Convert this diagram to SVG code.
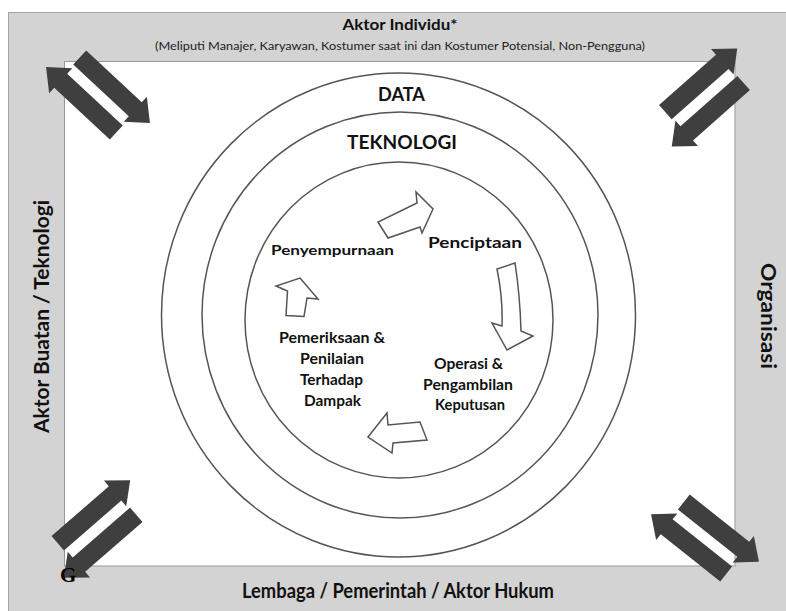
<svg xmlns="http://www.w3.org/2000/svg" xmlns:xlink="http://www.w3.org/1999/xlink" width="786" height="611" viewBox="0 0 786 611">
<style>
.t{font-family:Lato,"Liberation Sans",sans-serif;font-weight:bold;fill:#111;}
.s{font-family:Lato,"Liberation Sans",sans-serif;fill:#222;}
.ring{fill:none;stroke:#555;stroke-width:1.5;}
.ba{fill:#fff;stroke:#555;stroke-width:1.5;stroke-linejoin:miter;}
.ca{fill:#3f3f3f;}
</style>
<defs>
<g id="pair">
<path d="M -39,-24.5 L 37,-24.5 L 37,-32 L 57,-15 L 37,2 L 37,-5.5 L -39,-5.5 Z"/>
<path d="M 39,24.5 L -37,24.5 L -37,32 L -57,15 L -37,-2 L -37,5.5 L 39,5.5 Z"/>
</g>
</defs>
<rect x="0" y="0" width="786" height="611" fill="#fff"/>
<g id="frame">
<rect x="8.5" y="12.5" width="790" height="610" fill="#d3d3d3" stroke="#a5a5a5" stroke-width="1"/>
<rect x="64.5" y="61.5" width="670.5" height="504.5" fill="#fff" stroke="#999" stroke-width="1"/>
</g>
<g id="actor-individu">
<text class="t" x="400" y="30" font-size="15" text-anchor="middle" textLength="115" lengthAdjust="spacingAndGlyphs">Aktor Individu*</text>
<text class="s" x="400" y="50" font-size="11.5" text-anchor="middle" textLength="490" lengthAdjust="spacingAndGlyphs">(Meliputi Manajer, Karyawan, Kostumer saat ini dan Kostumer Potensial,  Non-Pengguna)</text>
</g>
<g id="actor-buatan">
<text class="t" transform="translate(49,316.5) rotate(-90)" x="0" y="0" font-size="20" text-anchor="middle" textLength="233" lengthAdjust="spacingAndGlyphs">Aktor Buatan / Teknologi</text>
</g>
<g id="organisasi">
<text class="t" transform="translate(761,316) rotate(90)" x="0" y="0" font-size="20" text-anchor="middle" textLength="106" lengthAdjust="spacingAndGlyphs">Organisasi</text>
</g>
<g id="lembaga">
<text class="t" x="398" y="598" font-size="20" text-anchor="middle" textLength="312" lengthAdjust="spacingAndGlyphs">Lembaga / Pemerintah / Aktor Hukum</text>
</g>
<g id="rings">
<ellipse class="ring" cx="398.5" cy="315" rx="237" ry="242"/>
<ellipse class="ring" cx="400" cy="315" rx="198" ry="203"/>
<ellipse class="ring" cx="399" cy="320" rx="154" ry="158"/>
</g>
<g id="data">
<text class="t" x="401.5" y="101" font-size="19.5" text-anchor="middle" textLength="47" lengthAdjust="spacingAndGlyphs">DATA</text>
</g>
<g id="teknologi">
<text class="t" x="402" y="149" font-size="19.5" text-anchor="middle" textLength="110" lengthAdjust="spacingAndGlyphs">TEKNOLOGI</text>
</g>
<g id="penciptaan">
<text class="t" x="475" y="248" font-size="16" text-anchor="middle" textLength="94" lengthAdjust="spacingAndGlyphs">Penciptaan</text>
</g>
<g id="penyempurnaan">
<text class="t" x="332.5" y="255" font-size="14" text-anchor="middle" textLength="123" lengthAdjust="spacingAndGlyphs">Penyempurnaan</text>
</g>
<g id="pemeriksaan">
<text class="t" x="332" y="343" font-size="15" text-anchor="middle" textLength="106" lengthAdjust="spacingAndGlyphs">Pemeriksaan &amp;</text>
<text class="t" x="332" y="364" font-size="15" text-anchor="middle" textLength="64" lengthAdjust="spacingAndGlyphs">Penilaian</text>
<text class="t" x="331.5" y="385" font-size="15" text-anchor="middle" textLength="63" lengthAdjust="spacingAndGlyphs">Terhadap</text>
<text class="t" x="332.5" y="406" font-size="15" text-anchor="middle" textLength="57" lengthAdjust="spacingAndGlyphs">Dampak</text>
</g>
<g id="operasi">
<text class="t" x="468.5" y="369" font-size="15" text-anchor="middle" textLength="69" lengthAdjust="spacingAndGlyphs">Operasi &amp;</text>
<text class="t" x="468" y="390" font-size="15" text-anchor="middle" textLength="90" lengthAdjust="spacingAndGlyphs">Pengambilan</text>
<text class="t" x="470" y="410" font-size="15" text-anchor="middle" textLength="70" lengthAdjust="spacingAndGlyphs">Keputusan</text>
</g>
<g id="connectors">
<g id="cycle-arrows">
<path class="ba" d="M 378,222 L 388,238 L 420,227 L 422,233 L 433,209 L 416,192 L 417,203 Z"/>
<path class="ba" d="M 497,269 Q 503,298 502,326 L 492,323 L 507,350 L 533,336 L 521,331 Q 520,295 515,263 Z"/>
<path class="ba" d="M 368,437 L 387,413 L 388,425 L 420,422 L 427,440 L 393,443 L 392,453 Z"/>
<path class="ba" d="M 300,278 L 318,299 L 307,298 L 304,316.5 L 286,315.5 L 287.5,291 L 276,286 Z"/>
</g>
<g id="corner-arrows" class="ca">
<use xlink:href="#pair" transform="translate(98,95) rotate(43)"/>
<use xlink:href="#pair" transform="translate(704.5,97.6) rotate(-41.5)"/>
<use xlink:href="#pair" transform="translate(97,529) rotate(-41)"/>
<use xlink:href="#pair" transform="translate(705,538) rotate(38.5)"/>
</g>
</g>
<g id="g-label">
<text x="60" y="582" font-family="'Liberation Serif',serif" font-weight="bold" font-size="21" fill="#000">G</text>
</g>
</svg>
